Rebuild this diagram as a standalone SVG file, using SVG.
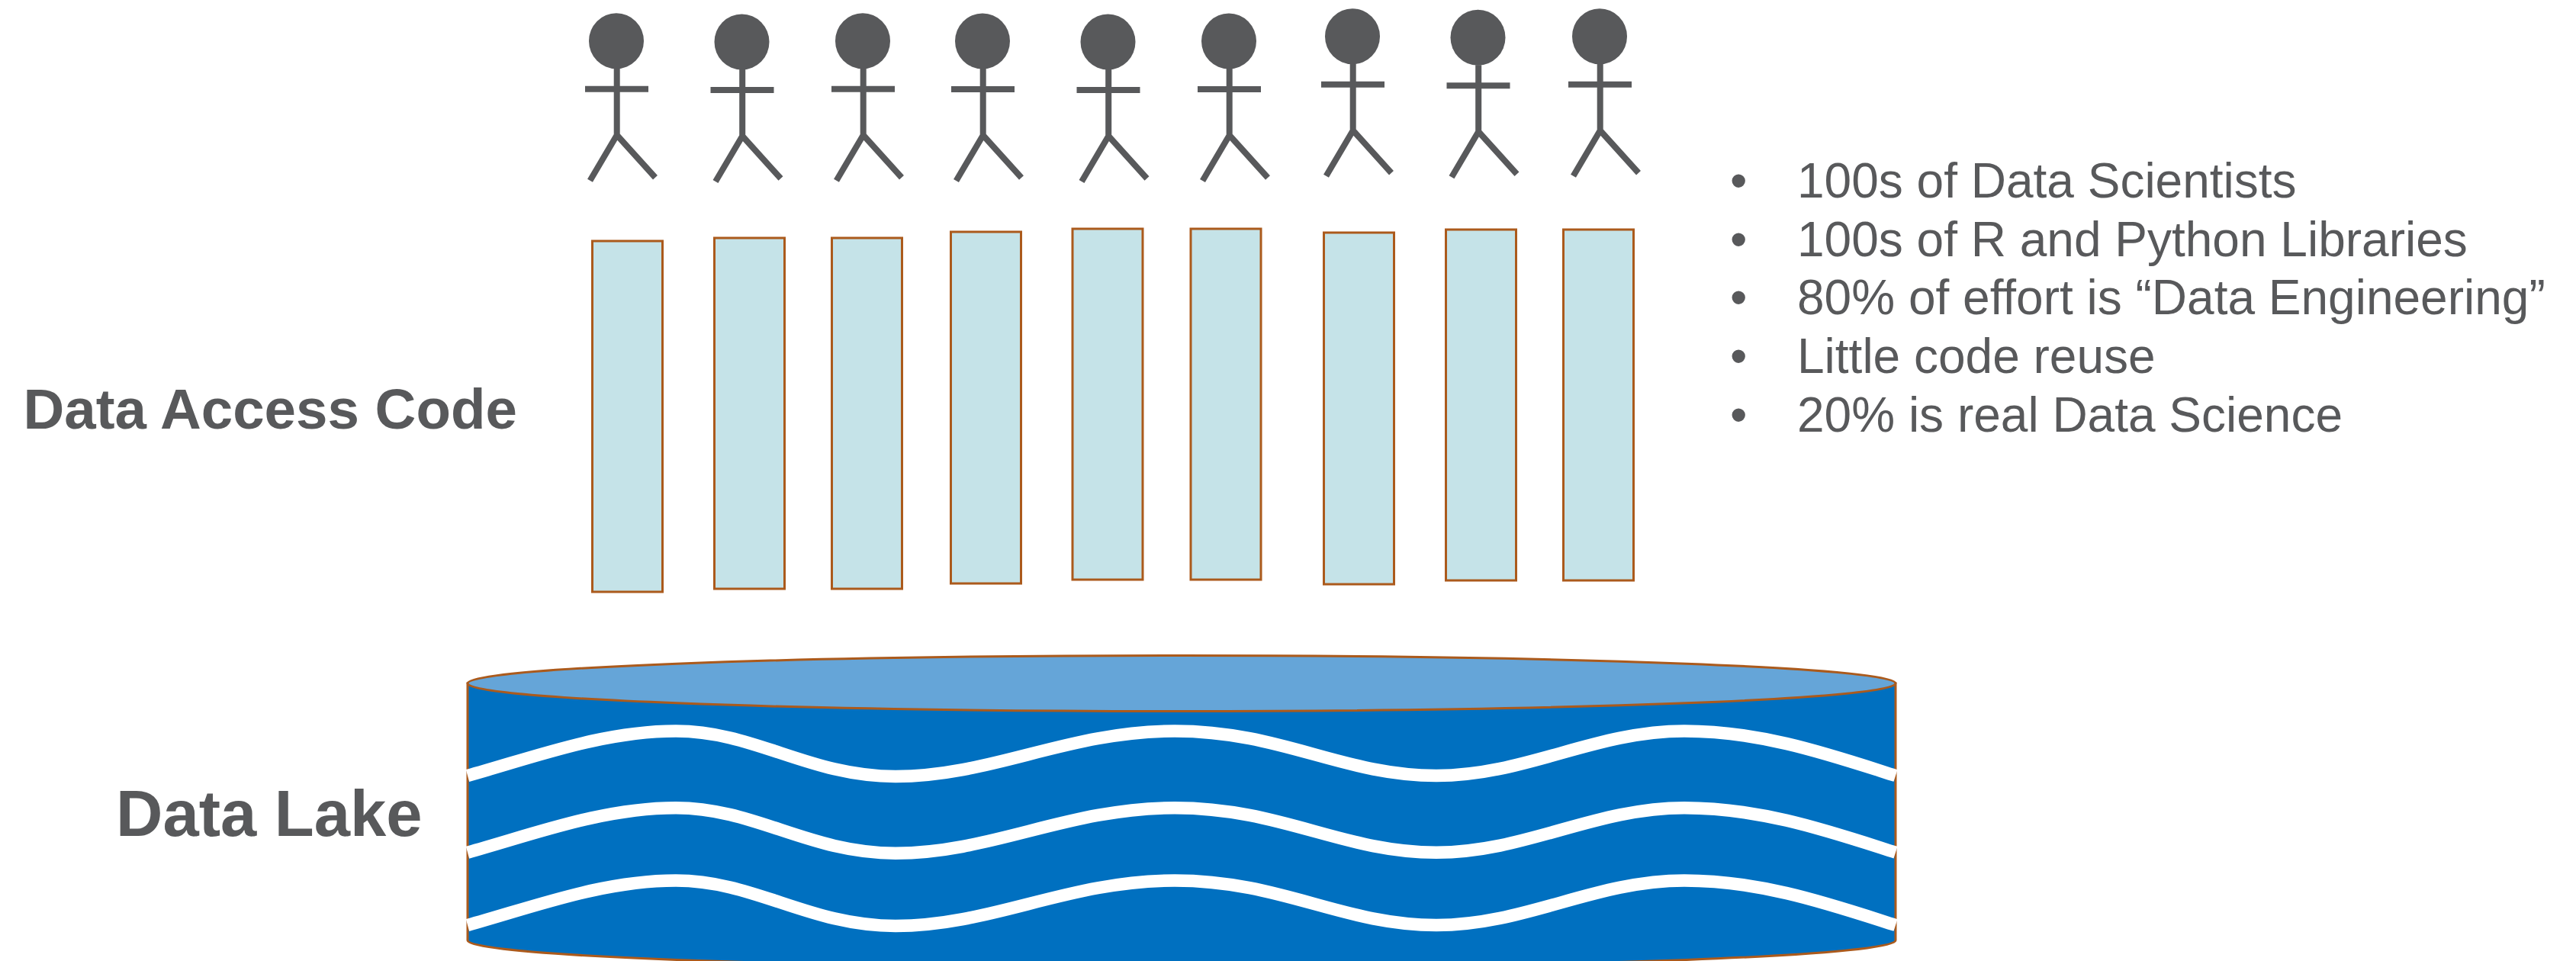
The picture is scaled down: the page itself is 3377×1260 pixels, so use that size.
<svg xmlns="http://www.w3.org/2000/svg" width="3377" height="1260" viewBox="0 0 3377 1260">
<style>
.h{font-family:"Liberation Sans",Arial,sans-serif;font-weight:700;fill:#58595b}
.b{font-family:"Liberation Sans",Arial,sans-serif;font-size:64px;fill:#58595b}
.c{fill:#c5e3e8;stroke:#ab5a1c;stroke-width:3}
.f{fill:none;stroke:#58595b;stroke-width:8}
.w{fill:none;stroke:#fff;stroke-width:16.5}
</style>
<defs>
<g id="fig">
<ellipse cx="0" cy="0" rx="36" ry="36.5" fill="#58595b"/>
<path class="f" d="M0.7,36V122M-41,63H42M-34.5,183L1.5,122M-0.5,122L51,179"/>
</g>
<path id="wave" d="M613,1017C700,993 790,958.5 886,958.5C990,958.5 1060,1018 1174,1018C1300,1018 1400,958.5 1540,958.5C1680,958.5 1760,1017 1883,1017C2000,1017 2090,958.5 2208,958.5C2310,958.5 2400,990 2485,1017"/>
</defs>
<rect width="3377" height="1260" fill="#fff"/>
<g id="people">
<use id="person1" href="#fig" x="808" y="53.8"/>
<use id="person2" href="#fig" x="972.5" y="55"/>
<use id="person3" href="#fig" x="1131" y="53.8"/>
<use id="person4" href="#fig" x="1288" y="54"/>
<use id="person5" href="#fig" x="1452.5" y="55"/>
<use id="person6" href="#fig" x="1611" y="54"/>
<use id="person7" href="#fig" x="1773" y="47.7"/>
<use id="person8" href="#fig" x="1937.5" y="49.3"/>
<use id="person9" href="#fig" x="2097" y="47.7"/>
</g>
<g id="code-blocks">
<rect class="c" x="776.5" y="316" width="92" height="460"/>
<rect class="c" x="936.5" y="312" width="92" height="460"/>
<rect class="c" x="1090.5" y="312" width="92" height="460"/>
<rect class="c" x="1246.5" y="304" width="92" height="461"/>
<rect class="c" x="1406" y="300" width="92" height="460"/>
<rect class="c" x="1561" y="300" width="92" height="460"/>
<rect class="c" x="1735.5" y="305" width="92" height="461"/>
<rect class="c" x="1895.5" y="301" width="92" height="460"/>
<rect class="c" x="2049.5" y="301" width="92" height="460"/>
</g>
<g id="data-lake">
<path d="M613,896V1233A936,36 0 0 0 2485,1233V896Z" fill="#0070c0" stroke="#ab5a1c" stroke-width="3"/>
<use class="w" href="#wave"/>
<use class="w" href="#wave" y="100.7"/>
<use class="w" href="#wave" y="196"/>
<ellipse cx="1549" cy="896" rx="936" ry="36.5" fill="#65a5d8" stroke="#ab5a1c" stroke-width="3"/>
</g>
<text id="label-code" class="h" font-size="74.5" x="30.5" y="562">Data Access Code</text>
<text id="label-lake" class="h" font-size="85" x="152" y="1096">Data Lake</text>
<g id="notes" class="b">
<text x="2268" y="259">•</text><text x="2356" y="259">100s of Data Scientists</text>
<text x="2268" y="336">•</text><text x="2356" y="336">100s of R and Python Libraries</text>
<text x="2268" y="412">•</text><text x="2356" y="412">80% of effort is “Data Engineering”</text>
<text x="2268" y="489">•</text><text x="2356" y="489">Little code reuse</text>
<text x="2268" y="566">•</text><text x="2356" y="566">20% is real Data Science</text>
</g>
</svg>
